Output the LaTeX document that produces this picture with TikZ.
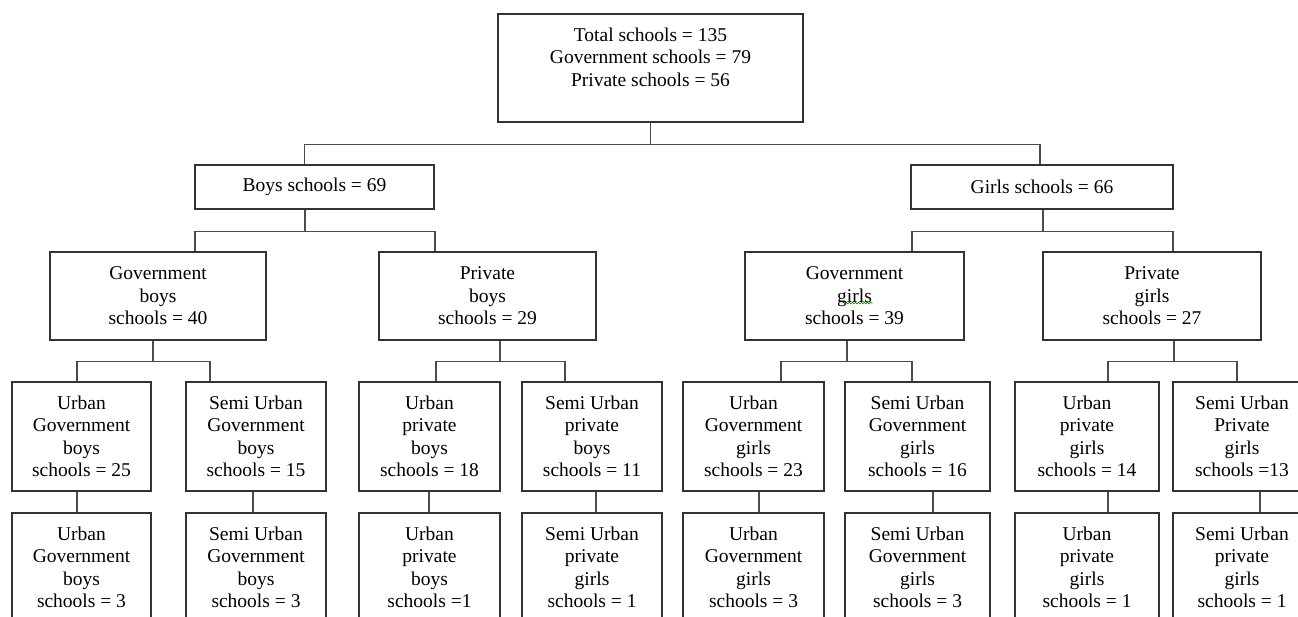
\documentclass[tikz,border=0pt]{standalone}
\usepackage{fontspec}
\setmainfont{Liberation Serif}
\usetikzlibrary{decorations.pathmorphing}
\tikzset{
  box/.style={draw=black!80, line width=1.3pt, fill=white, align=center, inner sep=0pt,
    font=\fontsize{19.5}{22.5}\selectfont},
  conn/.style={draw=black!70, line width=1.6pt},
}
\begin{document}
\begin{tikzpicture}[x=1pt,y=-1pt]
\path[use as bounding box] (0,0) rectangle (1298,617);
\clip (0,0) rectangle (1298,617);
\fill[white] (0,0) rectangle (1298,617);
% level 1
\node[box, minimum width=305, minimum height=108] (top) at (650.5,68)
  {Total schools = 135\\Government schools = 79\\Private schools = 56\\ ~};
% level 2
\node[box, minimum width=239, minimum height=44] (boys) at (314.5,187) {Boys schools = 69};
\node[box, minimum width=262, minimum height=44] (girls) at (1042,187) {Girls schools = 66};
% level 3
\node[box, minimum width=216, minimum height=88] (govb) at (158,296) {Government\\boys\\schools = 40};
\node[box, minimum width=217, minimum height=88] (prib) at (487.5,296) {Private\\boys\\schools = 29};
\node[box, minimum width=219, minimum height=88] (govg) at (854.5,296) {Government\\girls\\schools = 39};
\node[box, minimum width=218, minimum height=88] (prig) at (1152,296) {Private\\girls\\schools = 27};
% level 4
\node[box, minimum width=139, minimum height=109] (ugb) at (81.5,436.5) {Urban\\Government\\boys\\schools = 25};
\node[box, minimum width=140, minimum height=109] (sgb) at (256,436.5) {Semi Urban\\Government\\boys\\schools = 15};
\node[box, minimum width=141, minimum height=109] (upb) at (429.5,436.5) {Urban\\private\\boys\\schools = 18};
\node[box, minimum width=140, minimum height=109] (spb) at (592,436.5) {Semi Urban\\private\\boys\\schools = 11};
\node[box, minimum width=141, minimum height=109] (ugg) at (753.5,436.5) {Urban\\Government\\girls\\schools = 23};
\node[box, minimum width=145, minimum height=109] (sgg) at (917.5,436.5) {Semi Urban\\Government\\girls\\schools = 16};
\node[box, minimum width=144, minimum height=109] (upg) at (1087,436.5) {Urban\\private\\girls\\schools = 14};
\node[box, minimum width=138, minimum height=109] (spg) at (1242,436.5) {Semi Urban\\Private\\girls\\schools =13};
% level 5
\node[box, minimum width=139, minimum height=109] (ugb2) at (81.5,567.5) {Urban\\Government\\boys\\schools = 3};
\node[box, minimum width=140, minimum height=109] (sgb2) at (256,567.5) {Semi Urban\\Government\\boys\\schools = 3};
\node[box, minimum width=141, minimum height=109] (upb2) at (429.5,567.5) {Urban\\private\\boys\\schools =1};
\node[box, minimum width=140, minimum height=109] (spb2) at (592,567.5) {Semi Urban\\private\\girls\\schools = 1};
\node[box, minimum width=141, minimum height=109] (ugg2) at (753.5,567.5) {Urban\\Government\\girls\\schools = 3};
\node[box, minimum width=145, minimum height=109] (sgg2) at (917.5,567.5) {Semi Urban\\Government\\girls\\schools = 3};
\node[box, minimum width=144, minimum height=109] (upg2) at (1087,567.5) {Urban\\private\\girls\\schools = 1};
\node[box, minimum width=138, minimum height=109] (spg2) at (1242,567.5) {Semi Urban\\private\\girls\\schools = 1};
% spell-check squiggle
\draw[green!55!black, line width=0.6pt, decorate, decoration={snake, amplitude=0.9pt, segment length=3pt}]
  ([xshift=-12pt,yshift=-7pt]govg.center) -- ([xshift=18pt,yshift=-7pt]govg.center);
% connectors level 1 -> 2
\draw[conn] (top.south) -- ++(0,22) coordinate (bus0);
\draw[conn] ([xshift=-10pt]boys.north) |- (bus0) -| ([xshift=-2pt]girls.north);
% level 2 -> 3
\draw[conn] ([xshift=-9.5pt]boys.south) -- ++(0,22) coordinate (busB);
\draw[conn] ([xshift=37pt]govb.north) |- (busB) -| ([xshift=-52.5pt]prib.north);
\draw[conn] ([xshift=1pt]girls.south) -- ++(0,22) coordinate (busG);
\draw[conn] ([xshift=57.5pt]govg.north) |- (busG) -| ([xshift=21pt]prig.north);
% level 3 -> 4
\draw[conn] ([xshift=-5pt]govb.south) -- ++(0,21) coordinate (bus1);
\draw[conn] ([xshift=-4.5pt]ugb.north) |- (bus1) -| ([xshift=-46pt]sgb.north);
\draw[conn] ([xshift=12.5pt]prib.south) -- ++(0,21) coordinate (bus2);
\draw[conn] ([xshift=6.5pt]upb.north) |- (bus2) -| ([xshift=-27pt]spb.north);
\draw[conn] ([xshift=-7.5pt]govg.south) -- ++(0,21) coordinate (bus3);
\draw[conn] ([xshift=27.5pt]ugg.north) |- (bus3) -| ([xshift=-5.5pt]sgg.north);
\draw[conn] ([xshift=22pt]prig.south) -- ++(0,21) coordinate (bus4);
\draw[conn] ([xshift=21pt]upg.north) |- (bus4) -| ([xshift=-5pt]spg.north);
% level 4 -> 5
\draw[conn] ([xshift=-4.5pt]ugb.south) -- ([xshift=-4.5pt]ugb2.north);
\draw[conn] ([xshift=-3pt]sgb.south) -- ([xshift=-3pt]sgb2.north);
\draw[conn] ([xshift=-0.5pt]upb.south) -- ([xshift=-0.5pt]upb2.north);
\draw[conn] ([xshift=4pt]spb.south) -- ([xshift=4pt]spb2.north);
\draw[conn] ([xshift=5.5pt]ugg.south) -- ([xshift=5.5pt]ugg2.north);
\draw[conn] ([xshift=15.5pt]sgg.south) -- ([xshift=15.5pt]sgg2.north);
\draw[conn] ([xshift=21pt]upg.south) -- ([xshift=21pt]upg2.north);
\draw[conn] ([xshift=18pt]spg.south) -- ([xshift=18pt]spg2.north);
\end{tikzpicture}
\end{document}
